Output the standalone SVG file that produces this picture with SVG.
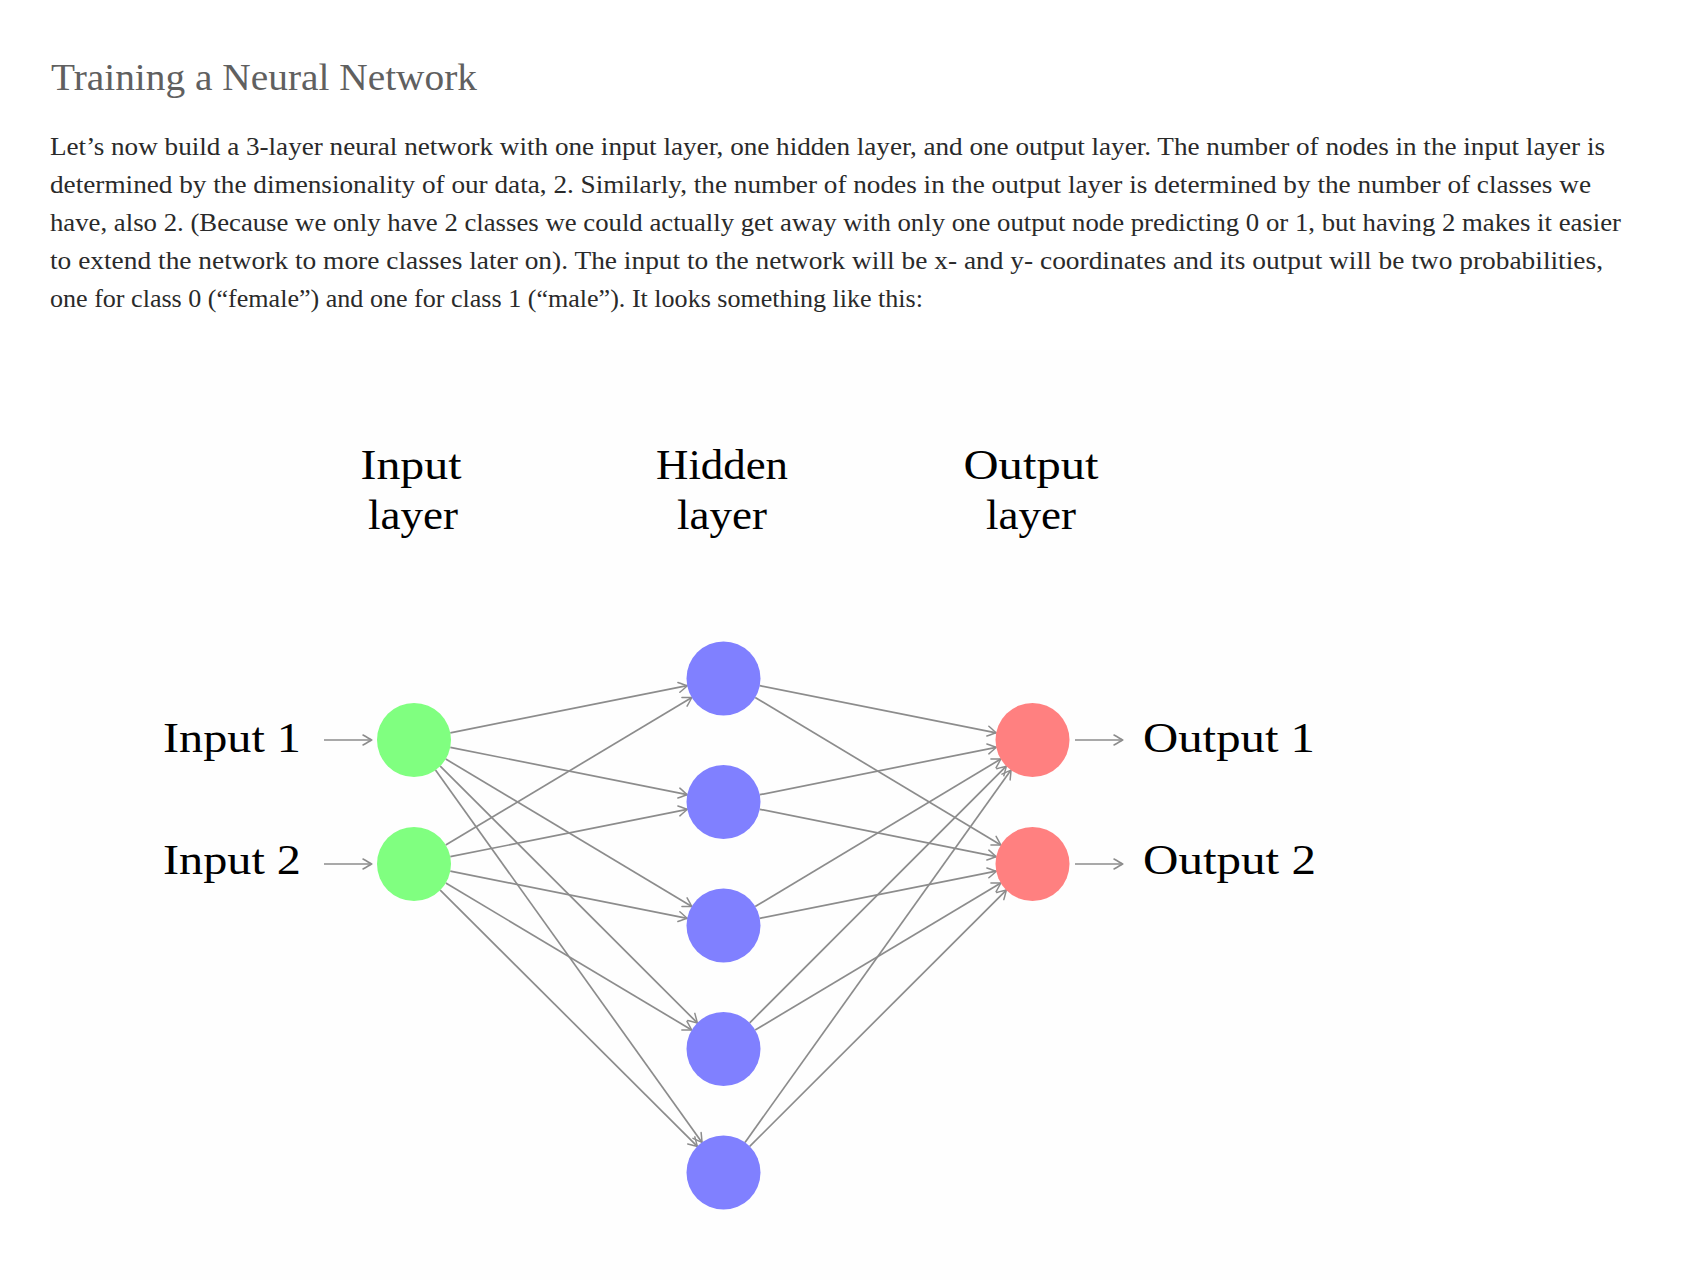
<svg xmlns="http://www.w3.org/2000/svg" width="1698" height="1280" viewBox="0 0 1698 1280">
<defs>
<style>
.title{font-family:"Liberation Serif","DejaVu Serif",serif;font-size:37px;fill:#606060}
.body{font-family:"Liberation Serif","DejaVu Serif",serif;font-size:25px;fill:#2a2a2a}
.lbl{font-family:"Liberation Serif","DejaVu Serif",serif;font-size:43px;fill:#000}
.hdr{font-family:"Liberation Serif","DejaVu Serif",serif;font-size:43px;fill:#000;text-anchor:middle}
.edge{stroke:#8c8c8c;stroke-width:1.7;fill:none;marker-end:url(#tip)}
.in{fill:#80ff80}
.hid{fill:#8080ff}
.out{fill:#ff8080}
</style>
<marker id="tip" markerUnits="userSpaceOnUse" markerWidth="14" markerHeight="14" viewBox="-10 -7 12 14" refX="0" refY="0" orient="auto">
<path d="M-8.5,-5 Q-2.5,-1.6 0,0 Q-2.5,1.6 -8.5,5" fill="none" stroke="#8c8c8c" stroke-width="1.5" stroke-linecap="round"/>
</marker>
</defs>
<rect x="0" y="0" width="1698" height="1280" fill="#ffffff"/>
<rect x="50" y="350" width="1360" height="930" fill="#fefefe"/>

<g id="heading">
<text class="title" x="51" y="90" textLength="426" lengthAdjust="spacingAndGlyphs">Training a Neural Network</text>
</g>
<g id="paragraph">
<text class="body" x="50" y="155" textLength="1555" lengthAdjust="spacingAndGlyphs">Let’s now build a 3-layer neural network with one input layer, one hidden layer, and one output layer. The number of nodes in the input layer is</text>
<text class="body" x="50" y="193" textLength="1541" lengthAdjust="spacingAndGlyphs">determined by the dimensionality of our data, 2. Similarly, the number of nodes in the output layer is determined by the number of classes we</text>
<text class="body" x="50" y="231" textLength="1571" lengthAdjust="spacingAndGlyphs">have, also 2. (Because we only have 2 classes we could actually get away with only one output node predicting 0 or 1, but having 2 makes it easier</text>
<text class="body" x="50" y="269" textLength="1553" lengthAdjust="spacingAndGlyphs">to extend the network to more classes later on). The input to the network will be x- and y- coordinates and its output will be two probabilities,</text>
<text class="body" x="50" y="307" textLength="873" lengthAdjust="spacingAndGlyphs">one for class 0 (“female”) and one for class 1 (“male”). It looks something like this:</text>
</g>

<g id="layer-headers">
<text class="hdr" x="411" y="479" textLength="101" lengthAdjust="spacingAndGlyphs">Input</text>
<text class="hdr" x="413" y="529" textLength="90" lengthAdjust="spacingAndGlyphs">layer</text>
<text class="hdr" x="722" y="479" textLength="132" lengthAdjust="spacingAndGlyphs">Hidden</text>
<text class="hdr" x="722" y="529" textLength="90" lengthAdjust="spacingAndGlyphs">layer</text>
<text class="hdr" x="1031" y="479" textLength="135" lengthAdjust="spacingAndGlyphs">Output</text>
<text class="hdr" x="1031" y="529" textLength="90" lengthAdjust="spacingAndGlyphs">layer</text>
</g>

<g id="connectors">
<line class="edge" x1="324" y1="740" x2="371.5" y2="740"/>
<line class="edge" x1="324" y1="864" x2="371.5" y2="864"/>
<line class="edge" x1="450.3" y1="732.8" x2="687.2" y2="685.7"/>
<line class="edge" x1="450.3" y1="747.3" x2="687.2" y2="794.7"/>
<line class="edge" x1="445.7" y1="759.0" x2="691.8" y2="906.5"/>
<line class="edge" x1="440.2" y1="766.1" x2="697.3" y2="1022.9"/>
<line class="edge" x1="435.5" y1="770.1" x2="702.0" y2="1142.4"/>
<line class="edge" x1="445.7" y1="845.0" x2="691.8" y2="697.5"/>
<line class="edge" x1="450.3" y1="856.7" x2="687.2" y2="809.3"/>
<line class="edge" x1="450.3" y1="871.2" x2="687.2" y2="918.3"/>
<line class="edge" x1="445.8" y1="883.0" x2="691.7" y2="1030.0"/>
<line class="edge" x1="440.2" y1="890.1" x2="697.3" y2="1146.4"/>
<line class="edge" x1="759.8" y1="685.7" x2="996.2" y2="732.8"/>
<line class="edge" x1="759.8" y1="794.7" x2="996.2" y2="747.3"/>
<line class="edge" x1="755.2" y1="906.5" x2="1000.8" y2="759.0"/>
<line class="edge" x1="749.7" y1="1022.8" x2="1006.3" y2="766.2"/>
<line class="edge" x1="745.0" y1="1142.4" x2="1011.0" y2="770.1"/>
<line class="edge" x1="755.2" y1="697.5" x2="1000.8" y2="845.0"/>
<line class="edge" x1="759.8" y1="809.3" x2="996.2" y2="856.7"/>
<line class="edge" x1="759.8" y1="918.3" x2="996.2" y2="871.2"/>
<line class="edge" x1="755.2" y1="1030.0" x2="1000.8" y2="883.0"/>
<line class="edge" x1="749.7" y1="1146.4" x2="1006.3" y2="890.1"/>
<line class="edge" x1="1075" y1="740" x2="1122.5" y2="740"/>
<line class="edge" x1="1075" y1="864" x2="1122.5" y2="864"/>
</g>

<g id="label-input1"><text class="lbl" x="163" y="752" textLength="138" lengthAdjust="spacingAndGlyphs">Input 1</text></g>
<g id="label-input2"><text class="lbl" x="163" y="874" textLength="138" lengthAdjust="spacingAndGlyphs">Input 2</text></g>
<g id="label-output1"><text class="lbl" x="1143" y="752" textLength="172" lengthAdjust="spacingAndGlyphs">Output 1</text></g>
<g id="label-output2"><text class="lbl" x="1143" y="874" textLength="173" lengthAdjust="spacingAndGlyphs">Output 2</text></g>

<g id="input1"><circle class="in" cx="414" cy="740" r="37"/></g>
<g id="input2"><circle class="in" cx="414" cy="864" r="37"/></g>
<g id="hidden1"><circle class="hid" cx="723.5" cy="678.5" r="37"/></g>
<g id="hidden2"><circle class="hid" cx="723.5" cy="802" r="37"/></g>
<g id="hidden3"><circle class="hid" cx="723.5" cy="925.5" r="37"/></g>
<g id="hidden4"><circle class="hid" cx="723.5" cy="1049" r="37"/></g>
<g id="hidden5"><circle class="hid" cx="723.5" cy="1172.5" r="37"/></g>
<g id="output1"><circle class="out" cx="1032.5" cy="740" r="37"/></g>
<g id="output2"><circle class="out" cx="1032.5" cy="864" r="37"/></g>
</svg>
